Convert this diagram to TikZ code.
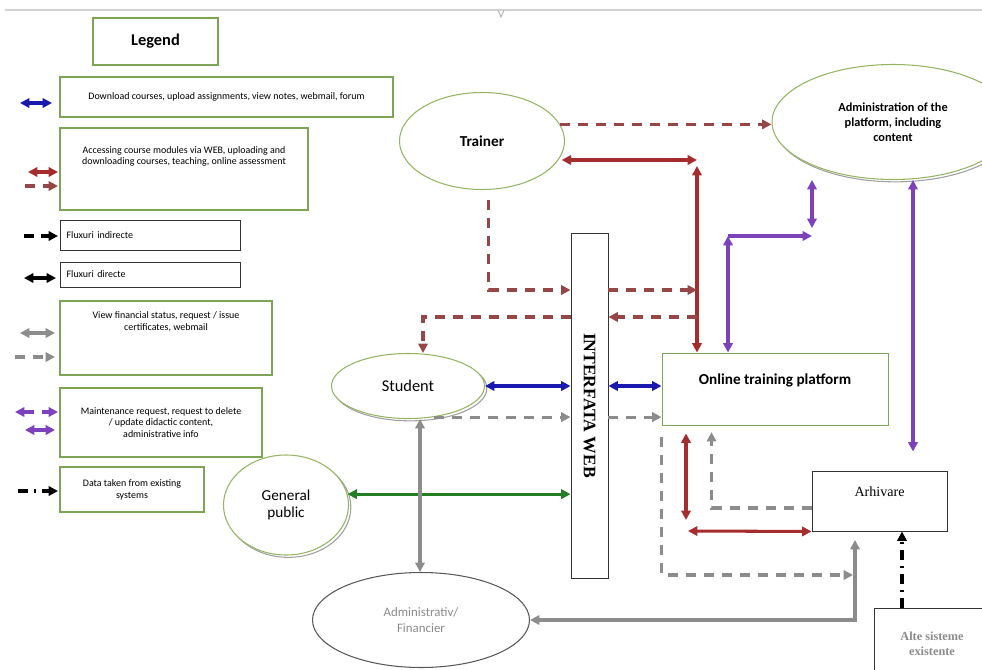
\documentclass[tikz,border=0pt]{standalone}
\usepackage{fontspec}
\setmainfont{Carlito}
\newfontfamily\serifbox{Liberation Serif}
\usepackage{xcolor}
\usepackage{graphicx}
\usepackage{tikz}
\usetikzlibrary{arrows.meta, shapes.geometric, positioning, shadows, calc}

\definecolor{boxgreen}{RGB}{125,165,85}
\definecolor{ovalgreen}{RGB}{150,180,100}
\definecolor{accessred}{RGB}{165,45,45}
\definecolor{accessbrown}{RGB}{150,70,70}
\definecolor{dlblue}{RGB}{25,25,175}
\definecolor{maintpurple}{RGB}{125,65,185}
\definecolor{publicgreen}{RGB}{35,125,35}
\definecolor{fingrey}{RGB}{140,140,140}

\begin{document}
\begin{tikzpicture}[
                x=0.3mm, y=-0.3mm,
                >={Triangle[length=2.8mm, width=2.8mm]},
                legendbox/.style={rectangle, draw=boxgreen, line width=0.9pt, fill=white, align=center, font=\fontsize{8.5}{10}\selectfont},
                fluxbox/.style={rectangle, draw=black!80, line width=0.8pt, fill=white, align=left, inner xsep=2mm, text width=50mm, font=\fontsize{8.5}{10}\selectfont},
                actor/.style={ellipse, draw=ovalgreen, line width=0.9pt, fill=white, inner sep=0pt, align=center},
                shadowed/.style={copy shadow={shadow xshift=0.7mm, shadow yshift=-0.7mm, draw=gray!75, fill=white}},
                system/.style={rectangle, draw=black!80, line width=0.8pt, fill=white, align=center},
                accesssolid/.style={draw=accessred, line width=2.6pt},
                accessdash/.style={draw=accessbrown, line width=2.6pt, dash pattern=on 3mm off 2.4mm},
                download/.style={draw=dlblue, line width=2.6pt},
                maint/.style={draw=maintpurple, line width=2.6pt},
                public/.style={draw=publicgreen, line width=2.6pt},
                finsolid/.style={draw=fingrey, line width=2.6pt},
                findash/.style={draw=fingrey, line width=2.6pt, dash pattern=on 3mm off 2.4mm},
                datadash/.style={draw=black, line width=2.6pt, dash pattern=on 3mm off 1.8mm on 0.6mm off 1.8mm}
            ]
                \useasboundingbox (0,0) rectangle (982,669);

                % page edge
                \draw[gray!35, line width=1.2pt] (5,10) -- (982,10);
                \draw[gray!60, line width=0.8pt] (498,10) -- (501,17) -- (504,10);

                % Legend
                \node[legendbox, minimum width=37.5mm, minimum height=14.1mm, font=\fontsize{14}{16}\selectfont\bfseries] (Legend) at (155.5,41.5) {Legend};
                \node[legendbox, minimum width=99.9mm, minimum height=12mm] (L1) at (226.5,97) {Download courses, upload assignments, view notes, webmail, forum};
                \node[legendbox, minimum width=74.4mm, minimum height=24.6mm, text depth=8mm] (L2) at (184,169) {Accessing course modules via WEB, uploading and\\downloading courses, teaching, online assessment};
                \node[fluxbox, minimum height=9mm] (L3) at (150,235) {Fluxuri indirecte};
                \node[fluxbox, minimum height=7.5mm] (L4) at (150,274.5) {Fluxuri directe};
                \node[legendbox, minimum width=63.6mm, minimum height=22.2mm, text depth=10mm] (L5) at (166,338) {View financial status, request / issue\\certificates, webmail};
                \node[legendbox, minimum width=60.6mm, minimum height=20.7mm] (L6) at (161,422.5) {Maintenance request, request to delete\\/ update didactic content,\\administrative info};
                \node[legendbox, minimum width=43.2mm, minimum height=13.5mm] (L7) at (132,489.5) {Data taken from existing\\systems};

                % Legend samples
                \draw[download, <->] (20,103) -- (52,103);
                \draw[accesssolid, <->] (28,172) -- (58,172);
                \draw[accessdash, ->] (25,186) -- (58,186);
                \draw[black, line width=2.6pt, dash pattern=on 3mm off 2mm, ->] (24,236) -- (58,236);
                \draw[black, line width=2.6pt, <->] (24,278) -- (56,278);
                \draw[finsolid, <->] (20,333) -- (55,333);
                \draw[findash, ->] (15,357) -- (55,357);
                \draw[maint, <->, dash pattern=on 3mm off 2.4mm] (15,412) -- (58,412);
                \draw[maint, <->] (25,430) -- (55,430);
                \draw[datadash, ->] (18,491) -- (58,491);

                % Actors
                \node[actor, minimum width=49.5mm, minimum height=29.1mm, font=\fontsize{13}{15}\selectfont\bfseries] (Trainer) at (482,141) {Trainer};
                \node[actor, shadowed, minimum width=72.6mm, minimum height=34.5mm, font=\fontsize{10.5}{13}\selectfont\bfseries] (Admin) at (893,122) {Administration of the\\platform, including\\content};
                \node[actor, shadowed, minimum width=45.9mm, minimum height=19.5mm, font=\fontsize{14}{16}\selectfont] (Student) at (408,386) {Student};
                \node[actor, shadowed, minimum width=37.5mm, minimum height=30mm, font=\fontsize{13}{15}\selectfont] (Public) at (286,505) {General\\public};
                \node[actor, draw=gray!70!black, minimum width=65.1mm, minimum height=28.5mm, text=fingrey, font=\fontsize{11}{13.5}\selectfont] (AdminFin) at (421,620) {Administrativ/\\Financier};

                % Systems
                \node[system, minimum width=11.1mm, minimum height=103.5mm, font=\serifbox\bfseries\fontsize{15}{17}\selectfont] (Web) at (589.5,405.5) {\rotatebox{-90}{INTERFATA WEB}};
                \node[system, draw=boxgreen, minimum width=67.8mm, minimum height=21.6mm, text depth=6mm, font=\fontsize{13}{15}\selectfont\bfseries] (Platform) at (775,389) {Online training platform};
                \node[system, minimum width=40.5mm, minimum height=18mm, text depth=5.8mm, font=\serifbox\fontsize{12}{14}\selectfont] (Arhivare) at (879.5,501) {Arhivare};
                \node[system, minimum width=34.8mm, minimum height=21.6mm, text=fingrey, font=\serifbox\bfseries\fontsize{10.5}{13}\selectfont] (Alte) at (932,644) {Alte sisteme\\existente};

                % Junctions
                \coordinate (redjoin) at (697,160);
                \coordinate (purjoin) at (728,236);
                \coordinate (purtop) at (812,236);
                \coordinate (puradm) at (812,180);
                \coordinate (archjoin) at (686,531);
                \coordinate (fincorner) at (855,540);
                \coordinate (lvltrain) at (0,290);
                \coordinate (lvlback) at (0,317);
                \coordinate (lvlarch) at (0,575);
                \coordinate (datax) at (902,0);

                % Trainer flows
                \draw[accessdash, ->] (Trainer.12) -- (Trainer.12 -| Admin.west);
                \draw[accesssolid, <->, shorten <=1mm] ([xshift=-2mm]Trainer.east |- redjoin) -- (redjoin);
                \draw[accesssolid, <->, shorten <=1.8mm] (redjoin) -- (redjoin |- Platform.north);
                \draw[accessdash, ->, shorten <=3mm] (Trainer.-82) |- (Web.west |- lvltrain);
                \draw[accessdash, ->] (Web.east |- lvltrain) -- (redjoin |- lvltrain);
                \draw[accessdash, ->] (redjoin |- lvlback) -- (Web.east |- lvlback);
                \draw[accessdash, ->] (Web.west |- lvlback) -| ([xshift=4.5mm]Student.north);

                % Maintenance flows
                \draw[maint, <->] (purjoin) -- (purjoin |- Platform.north);
                \draw[maint, ->] (purjoin) -- (purtop);
                \draw[maint, <->, shorten <=2.4mm] (purtop) -- (puradm);
                \draw[maint, <->, shorten >=5.7mm] ([xshift=6mm]Admin.south) -- ([xshift=6mm]Admin.south |- Arhivare.north);

                % Student and public flows
                \draw[download, <->] (Student.east) -- (Web.west |- Student.east);
                \draw[download, <->] (Web.east |- Student.east) -- (Platform.west |- Student.east);
                \draw[findash, ->] (Student.-50) -- (Web.west |- Student.-50);
                \draw[findash, ->] (Web.east |- Student.-50) -- (Platform.west |- Student.-50);
                \draw[public, <->] (Public.10) -- (Web.west |- Public.10);
                \draw[finsolid, <->] ([xshift=3.6mm]Student.south) -- ([xshift=3.6mm]Student.south |- AdminFin.north);
                \draw[finsolid, <->] (AdminFin.east) -| (fincorner);

                % Archive flows
                \draw[findash, ->, shorten <=3.6mm] (Platform.south west) |- ([xshift=-0.6mm]fincorner |- lvlarch);
                \draw[findash, ->, shorten >=2mm] ([yshift=-2.1mm]Arhivare.west) -| ([xshift=15mm]Platform.south west);
                \draw[accesssolid, <->, shorten <=2.4mm, shorten >=3.3mm] (archjoin |- Platform.south) -- (archjoin);
                \draw[accesssolid, <->] (Arhivare.south west) -- ([xshift=0.6mm]archjoin);
                \draw[datadash, ->] (Alte.north -| datax) -- (Arhivare.south -| datax);
            \end{tikzpicture}
\end{document}
